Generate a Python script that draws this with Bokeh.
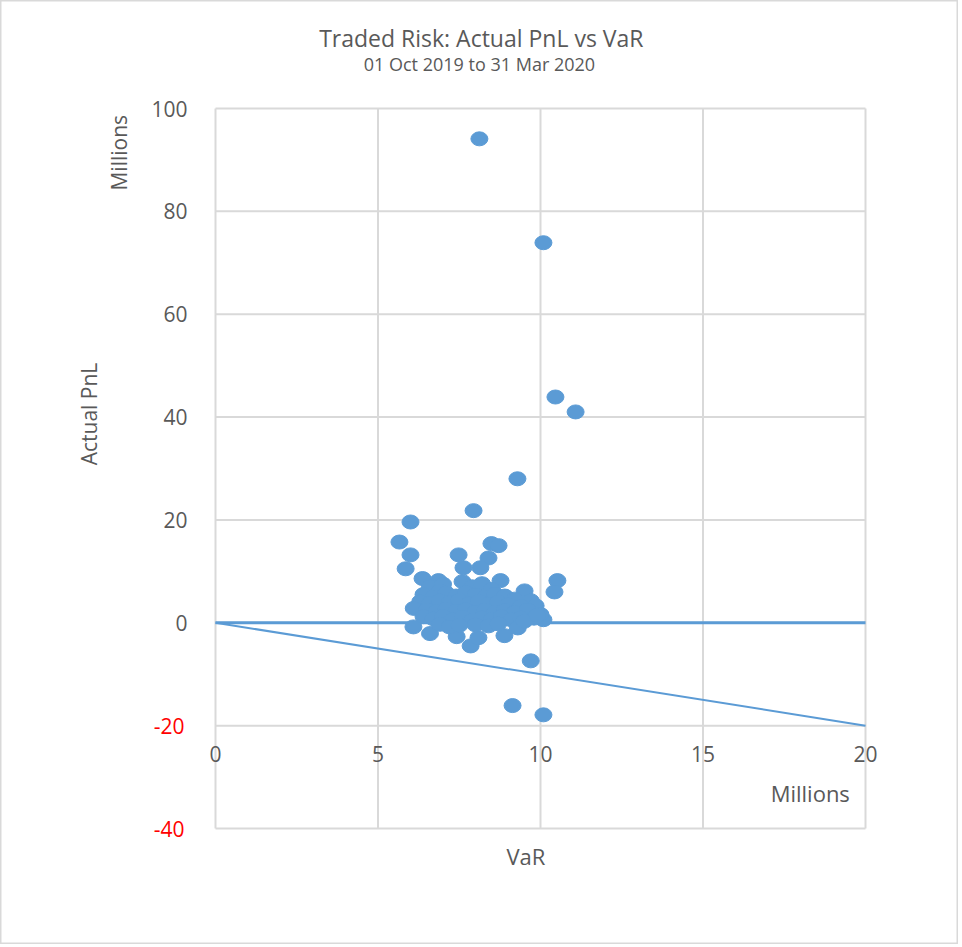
from bokeh.plotting import figure
from bokeh.models import ColumnDataSource, Range1d
from bokeh.embed import file_html
from bokeh.resources import INLINE
from bokeh.core.properties import value

# ---- data (millions) ----
var_x = [8.12, 10.09, 10.46, 11.08, 9.29, 7.94, 6.00, 5.66, 6.00, 5.85,
         7.48, 8.49, 8.71, 8.40, 8.15, 7.63, 6.37, 6.86, 8.77, 10.52,
         10.43, 9.51, 9.70, 9.85, 10.09, 6.09, 6.60, 7.42, 7.85, 8.09,
         8.89, 9.70, 9.14, 10.09,
         6.6, 7.0, 7.6, 7.9, 8.2, 8.5, 6.9,
         6.4, 6.7, 7.1, 7.4, 7.7, 8.0, 8.3, 8.6, 8.9, 9.2,
         6.3, 6.6, 6.9, 7.2, 7.5, 7.8, 8.1, 8.4, 8.7, 9.0, 9.4,
         6.1, 6.5, 6.8, 7.1, 7.4, 7.7, 8.0, 8.3, 8.6, 8.9, 9.2, 9.6, 10.0,
         6.4, 6.7, 7.0, 7.3, 7.6, 7.9, 8.2, 8.5, 8.8, 9.1, 9.4, 9.8,
         6.9, 7.2, 7.5, 8.0, 8.4, 8.7, 9.3, 9.5, 9.9]
pnl_y = [94.1, 73.9, 43.9, 41.0, 28.0, 21.8, 19.6, 15.7, 13.2, 10.5,
         13.2, 15.4, 15.0, 12.6, 10.7, 10.7, 8.6, 8.2, 8.2, 8.2,
         6.0, 6.2, 4.3, 3.3, 0.6, -0.8, -2.1, -2.7, -4.5, -2.9,
         -2.5, -7.4, -16.1, -17.9,
         7.0, 7.5, 8.0, 7.0, 7.6, 6.5, 6.2,
         5.5, 5.0, 5.8, 5.2, 5.9, 5.4, 5.0, 5.6, 5.2, 4.6,
         4.1, 3.8, 4.3, 3.9, 4.4, 3.7, 4.2, 3.6, 4.0, 3.5, 3.2,
         2.8, 2.5, 2.2, 2.7, 2.3, 2.6, 2.1, 2.5, 2.0, 2.4, 2.0, 2.5, 1.6,
         1.2, 0.8, 1.3, 0.6, 1.1, 0.5, 1.0, 0.7, 1.2, 0.6, 1.0, 0.9,
         -0.3, -0.8, -0.5, -0.4, -0.6, -0.2, -1.0, 0.3, 1.5]

zero_x = [0, 20]
zero_y = [0, 0]
limit_x = [0, 20]
limit_y = [0, -20]

x_ticks = [0, 5, 10, 15, 20]
y_ticks = [-40, -20, 0, 20, 40, 60, 80, 100]
x_axis_cross = -20          # horizontal axis crosses the value axis at -20

title_text = "Traded Risk: Actual PnL vs VaR"
subtitle_text = "01 Oct 2019 to 31 Mar 2020"
y_title = "Actual PnL"
x_title = "VaR"
unit_text = "Millions"

GREY = "#595959"
GRID = "#d9d9d9"
BLUE = "#5B9BD5"
RED = "#FF0000"
FONT = value("Open Sans")

W, H = 958, 944
PLOT_L, PLOT_R, PLOT_T, PLOT_B = 215, 865, 108, 828   # plot area in canvas px
xmin, xmax = min(x_ticks), max(x_ticks)
ymin, ymax = min(y_ticks), max(y_ticks)
xs = (PLOT_R - PLOT_L) / (xmax - xmin)
ys = (PLOT_B - PLOT_T) / (ymax - ymin)

p = figure(width=W, height=H, output_backend="svg", toolbar_location=None,
           x_range=Range1d(xmin - PLOT_L / xs, xmax + (W - PLOT_R) / xs),
           y_range=Range1d(ymin - (H - PLOT_B) / ys, ymax + PLOT_T / ys),
           min_border=0)
p.axis.visible = False
p.grid.visible = False
p.outline_line_color = GRID
p.outline_line_width = 2
p.background_fill_color = "white"
p.border_fill_color = "white"

# gridlines (plot area)
p.segment(x0=x_ticks, y0=[ymin] * len(x_ticks), x1=x_ticks, y1=[ymax] * len(x_ticks),
          line_color=GRID, line_width=2)
p.segment(x0=[xmin] * len(y_ticks), y0=y_ticks, x1=[xmax] * len(y_ticks), y1=y_ticks,
          line_color=GRID, line_width=2)

# reference lines
p.line(zero_x, zero_y, line_color=BLUE, line_width=3)
p.line(limit_x, limit_y, line_color=BLUE, line_width=2)

src = ColumnDataSource(dict(x=var_x, y=pnl_y))
p.ellipse(x="x", y="y", width=17, height=14, width_units="screen", height_units="screen",
          source=src, fill_color=BLUE, line_color=BLUE)

# x tick labels at the crossing level
p.text(x=x_ticks, y=[x_axis_cross] * len(x_ticks), text=[str(t) for t in x_ticks],
       y_offset=28, text_align="center", text_baseline="middle",
       text_font=FONT, text_font_size="21px", text_color=GREY)

# y tick labels, negatives in red
pos_ticks = [t for t in y_ticks if t >= 0]
neg_ticks = [t for t in y_ticks if t < 0]
p.text(x=[xmin] * len(pos_ticks), y=pos_ticks, text=[str(t) for t in pos_ticks],
       x_offset=-28, text_align="right", text_baseline="middle",
       text_font=FONT, text_font_size="21px", text_color=GREY)
p.text(x=[xmin] * len(neg_ticks), y=neg_ticks, text=[str(t) for t in neg_ticks],
       x_offset=-31, text_align="right", text_baseline="middle",
       text_font=FONT, text_font_size="21px", text_color=RED)

def lab(text, x, y, size, angle=0.0):
    p.text(x=[x], y=[y], text=[text], angle=angle, text_align="center",
           text_baseline="middle", text_font=FONT, text_font_size=size, text_color=GREY)

lab(title_text, 8.18, 113.7, "23px")
lab(subtitle_text, 8.12, 108.7, "18px")
lab(y_title, -3.9, 40.6, "21px", angle=1.5708)
lab(unit_text, -2.98, 91.4, "21px", angle=1.5708)
lab(unit_text, 18.3, -33.1, "22px")
lab(x_title, 9.55, -45.3, "22px")

open("out.html", "w").write(file_html(p, INLINE))
